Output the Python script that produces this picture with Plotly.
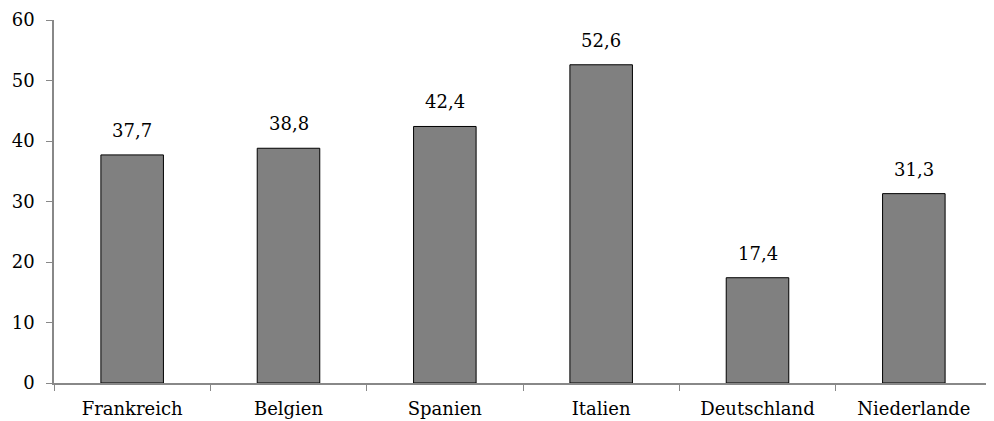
import plotly.graph_objects as go

categories = ["Frankreich", "Belgien", "Spanien", "Italien", "Deutschland", "Niederlande"]
values = [37.7, 38.8, 42.4, 52.6, 17.4, 31.3]
labels = [f"{v:.1f}".replace(".", ",") for v in values]
y_ticks = [0, 10, 20, 30, 40, 50, 60]

font_family = "DejaVu Serif"

fig = go.Figure(go.Bar(
    x=categories,
    y=values,
    marker=dict(color="#808080", line=dict(color="black", width=1)),
    width=0.4,
))

for c, v, t in zip(categories, values, labels):
    fig.add_annotation(
        x=c, y=v, text=t, showarrow=False,
        yanchor="bottom", yshift=12,
        font=dict(family=font_family, size=18, color="black"),
    )

fig.update_layout(
    width=994, height=421,
    margin=dict(l=46, r=10, t=12, b=46),
    paper_bgcolor="white", plot_bgcolor="white",
    font=dict(family=font_family, size=18, color="black"),
    showlegend=False,
)
fig.update_xaxes(
    automargin=False,
    showline=True, linecolor="#888888", linewidth=1.5,
    ticks="outside", tickson="boundaries", ticklen=6, tickcolor="#888888",
    ticklabelstandoff=9,
    showgrid=False,
)
fig.update_yaxes(
    automargin=False,
    range=[0, 60], tickvals=y_ticks,
    showline=True, linecolor="#888888", linewidth=1.5,
    ticks="outside", ticklen=6, tickcolor="#888888",
    ticklabelstandoff=8,
    showgrid=False, zeroline=False,
)

fig.write_html("out.html")
